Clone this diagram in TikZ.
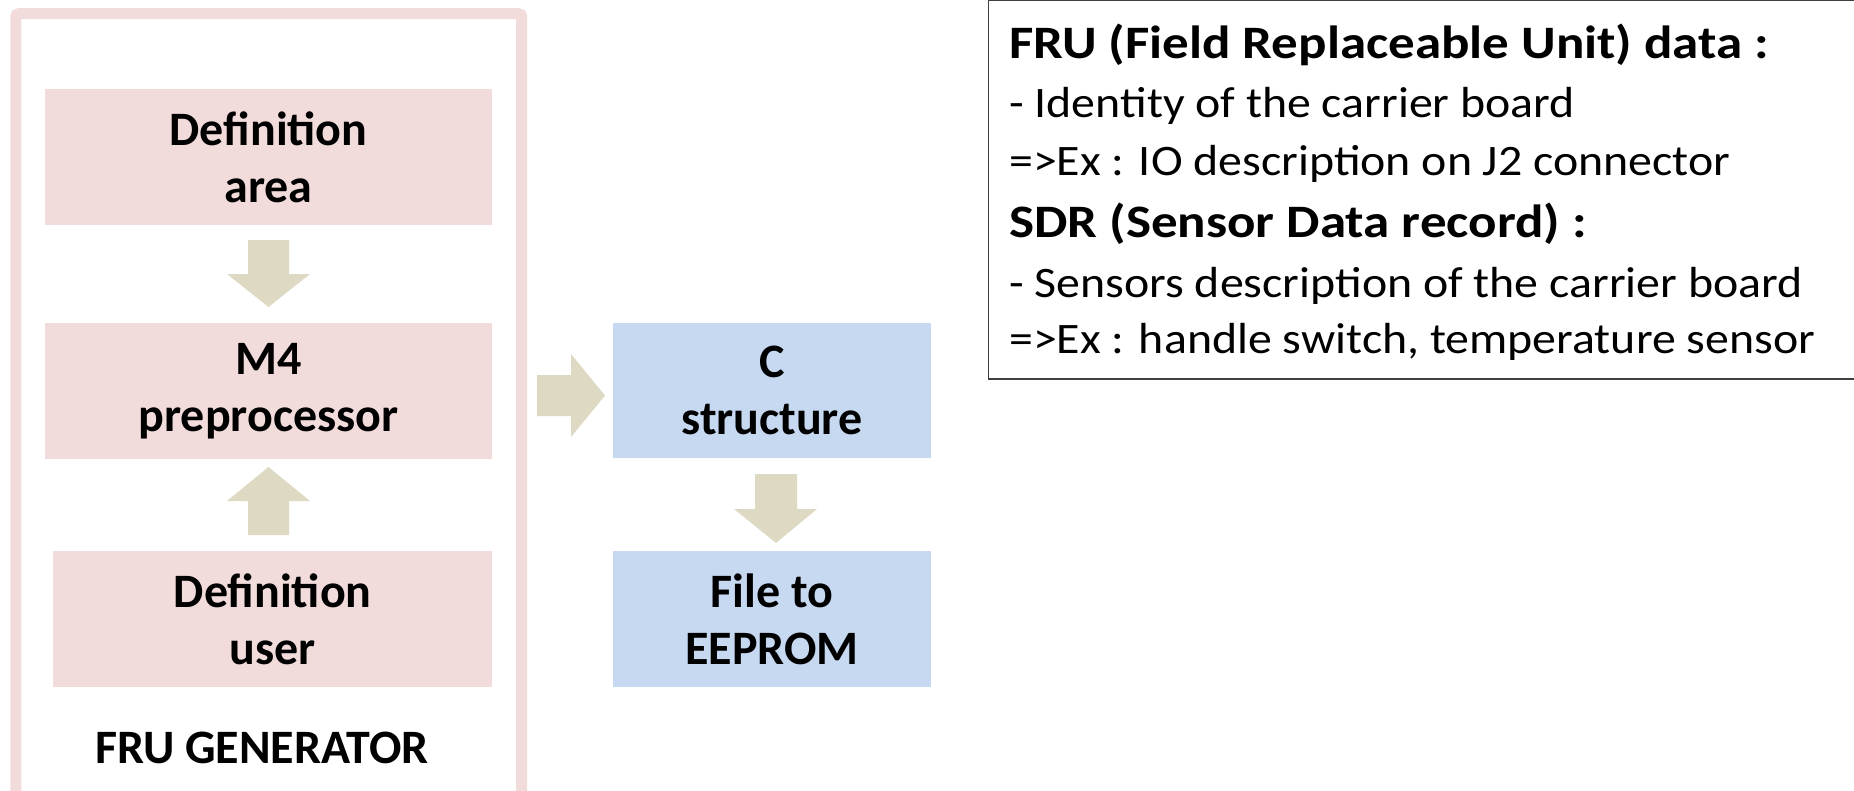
\documentclass[tikz,border=0pt]{standalone}
\usepackage{fontspec}
\setmainfont{Carlito}
\newfontfamily\headfont[FakeStretch=1.14]{Carlito}
\newfontfamily\bodyfont[FakeStretch=1.10]{Carlito}
\definecolor{pinkfill}{HTML}{F2DCDB}
\definecolor{bluefill}{HTML}{C6D9F1}
\definecolor{arrowfill}{HTML}{DDD9C3}
\definecolor{boxline}{HTML}{404040}
\begin{document}
\begin{tikzpicture}[x=1pt,y=-1pt,
  stage/.style={fill=pinkfill, draw=none, align=center, inner sep=0pt,
    font=\fontsize{48}{57}\selectfont\bfseries},
  cstage/.style={stage, fill=bluefill},
  blockarrow/.style={fill=arrowfill, draw=none},
  infoline/.style={anchor=base west, inner sep=0pt, font=\bodyfont\fontsize{43.5}{50}\selectfont},
  infohead/.style={anchor=base west, inner sep=0pt, font=\headfont\fontsize{46.5}{52}\selectfont\bfseries}]
\useasboundingbox (0,0) rectangle (1854,790);
% outer frame
\draw[pinkfill, line width=11pt, rounded corners=3pt] (15.8,13.7) rectangle (521.7,805);
% pink stages
\node[stage, minimum width=447.6pt, minimum height=136pt] (defarea) at (268.6,157) {Definition\\area};
\node[stage, minimum width=447.6pt, minimum height=136pt] (m4) at (268.6,391) {M4\\preprocessor};
\node[stage, minimum width=439.4pt, minimum height=136pt] (defuser) at (272.7,619) {Definition\\user};
\node[font=\fontsize{48}{50}\selectfont\bfseries, inner sep=0pt, anchor=base] (gen) at (262,763) {FRU GENERATOR};
% blue stages
\node[cstage, minimum width=318pt, minimum height=135pt] (cstruct) at (772,390.5) {C\\structure};
\node[cstage, minimum width=318pt, minimum height=136pt] (eeprom) at (772,619) {File to\\EEPROM};
% block arrows
\fill[blockarrow] (248,240) -- (289,240) -- (289,274) -- (310,274) -- (268.5,307) -- (227,274) -- (248,274) -- cycle;
\fill[blockarrow] (248,535) -- (289,535) -- (289,501) -- (310,501) -- (268.5,467) -- (227,501) -- (248,501) -- cycle;
\fill[blockarrow] (537,375) -- (571,375) -- (571,354) -- (605,395.5) -- (571,437) -- (571,416) -- (537,416) -- cycle;
\fill[blockarrow] (755,474) -- (797,474) -- (797,509) -- (817,509) -- (776,543) -- (734,509) -- (755,509) -- cycle;
% info box
\draw[boxline, line width=1.5pt] (1870,0) -- (988.5,0) -- (988.5,379) -- (1870,379);
\node[infohead] (t1) at (1009,58) {FRU (Field Replaceable Unit) data :};
\node[infoline] (t2) at (1009,117) {- Identity of the carrier board};
\node[infoline] (t3) at (1009,175) {=>Ex : IO description on J2 connector};
\node[infohead] (t4) at (1009,237) {SDR (Sensor Data record) :};
\node[infoline] (t5) at (1009,297) {- Sensors description of the carrier board};
\node[infoline] (t6) at (1009,353) {=>Ex : handle switch, temperature sensor};
\end{tikzpicture}
\end{document}
